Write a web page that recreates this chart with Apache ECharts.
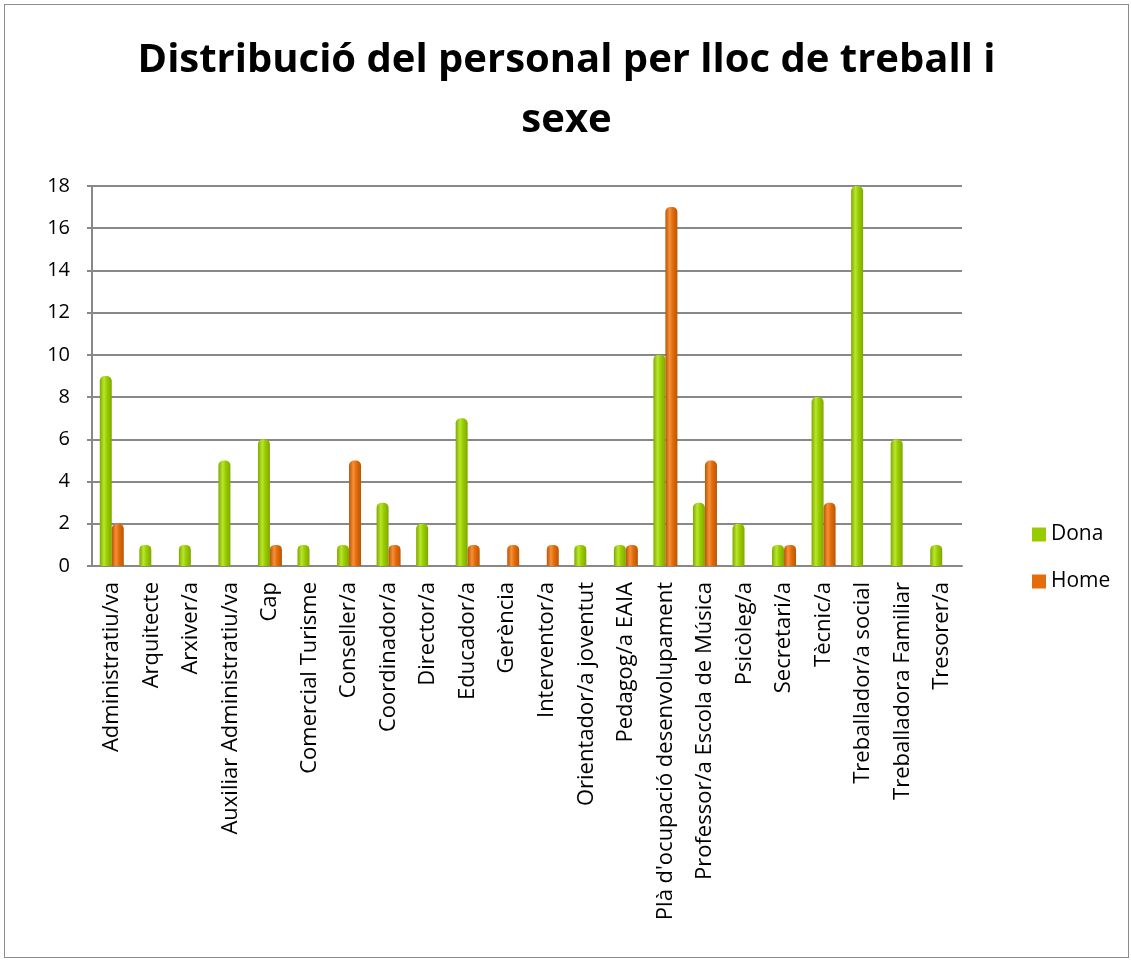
<!DOCTYPE html>
<html>
<head>
<meta charset="utf-8">
<script src="https://cdn.jsdelivr.net/npm/echarts@6/dist/echarts.min.js"></script>
<style>
  html, body { margin: 0; padding: 0; background: #fff; }
  #chart { position: absolute; left: 4px; top: 4px; width: 1125px; height: 954px; border: 1px solid #8c8c8c; box-sizing: border-box; }
</style>
</head>
<body>
<div id="chart"></div>
<script>
// categories (llocs de treball)
var categories = [
  'Administratiu/va', 'Arquitecte', 'Arxiver/a', 'Auxiliar Administratiu/va', 'Cap',
  'Comercial Turisme', 'Conseller/a', 'Coordinador/a', 'Director/a', 'Educador/a',
  'Gerència', 'Interventor/a', 'Orientador/a joventut', 'Pedagog/a EAIA',
  "Plà d'ocupació desenvolupament", 'Professor/a Escola de Música', 'Psicòleg/a',
  'Secretari/a', 'Tècnic/a', 'Treballador/a social', 'Treballadora Familiar', 'Tresorer/a'
];
var dona = [9, 1, 1, 5, 6, 1, 1, 3, 2, 7, 0, 0, 1, 1, 10, 3, 2, 1, 8, 18, 6, 1];
var home = [2, 0, 0, 0, 1, 0, 5, 1, 0, 1, 1, 1, 0, 1, 17, 5, 0, 1, 3, 0, 0, 0];
var yTicks = [0, 2, 4, 6, 8, 10, 12, 14, 16, 18];

// barres amb aspecte de cilindre
function cyl(dark, mid, light) {
  return new echarts.graphic.LinearGradient(0, 0, 1, 0, [
    { offset: 0, color: dark },
    { offset: 0.35, color: light },
    { offset: 0.6, color: mid },
    { offset: 1, color: dark }
  ]);
}

var chart = echarts.init(document.getElementById('chart'));
chart.setOption({
  animation: false,
  title: {
    text: 'Distribució del personal per lloc de treball i\nsexe',
    left: 'center',
    top: 21,
    textStyle: { fontFamily: 'Open Sans', fontWeight: 'bold', fontSize: 40, lineHeight: 60, color: '#000' }
  },
  legend: {
    orient: 'vertical',
    left: 1022,
    top: 514,
    itemWidth: 14,
    itemHeight: 14,
    itemGap: 26,
    icon: 'rect',
    textStyle: { fontFamily: 'Open Sans', fontSize: 21, color: '#000' },
    data: [
      { name: 'Dona', itemStyle: { color: '#99cc00' } },
      { name: 'Home', itemStyle: { color: '#e46c0a' } }
    ]
  },
  grid: { left: 87, right: 166, top: 181, bottom: 391 },
  xAxis: {
    type: 'category',
    data: categories,
    axisLine: { lineStyle: { color: '#888', width: 2 } },
    axisTick: { show: false },
    axisLabel: {
      rotate: 90, interval: 0, margin: 16,
      fontFamily: 'Open Sans', fontSize: 22, color: '#000'
    }
  },
  yAxis: {
    type: 'value',
    min: 0, max: 18, interval: 2,
    axisLine: { show: true, lineStyle: { color: '#888', width: 2 } },
    axisTick: { show: true, length: 5, lineStyle: { color: '#888', width: 2 } },
    axisLabel: {
      fontFamily: 'Open Sans', fontSize: 20, color: '#000', margin: 22,
      formatter: function (v) { return yTicks.indexOf(v) >= 0 ? String(v) : ''; }
    },
    splitLine: { lineStyle: { color: '#888', width: 2 } }
  },
  series: [
    {
      name: 'Dona', type: 'bar', data: dona, barWidth: 12, barGap: '0%',
      itemStyle: { color: cyl('#7fa800', '#99cc00', '#b8e62e'), borderRadius: [5, 5, 0, 0] }
    },
    {
      name: 'Home', type: 'bar', data: home, barWidth: 12,
      itemStyle: { color: cyl('#b95505', '#e46c0a', '#f5903a'), borderRadius: [5, 5, 0, 0] }
    }
  ]
});
</script>
</body>
</html>
